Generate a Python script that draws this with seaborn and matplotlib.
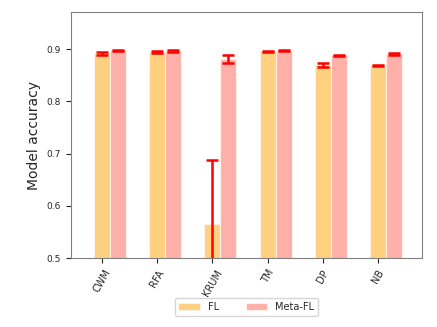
import pandas as pd
import matplotlib
matplotlib.use("Agg")
import matplotlib.pyplot as plt
import seaborn as sns

# data
methods = ["CWM", "RFA", "KRUM", "TM", "DP", "NB"]
fl_acc = [0.892, 0.895, 0.565, 0.896, 0.870, 0.868]
fl_err = [0.003, 0.002, 0.123, 0.001, 0.004, 0.001]
meta_acc = [0.898, 0.897, 0.881, 0.897, 0.888, 0.891]
meta_err = [0.001, 0.002, 0.008, 0.001, 0.001, 0.002]

df = pd.DataFrame({
    "method": methods * 2,
    "acc": fl_acc + meta_acc,
    "err": fl_err + meta_err,
    "setting": ["FL"] * len(methods) + ["Meta-FL"] * len(methods),
})

sns.set_style("ticks")
plt.rcParams["font.family"] = ["DejaVu Sans"]

fig = plt.figure(figsize=(4.37, 3.27), dpi=100)
ax = fig.add_axes([0.162, 0.211, 0.803, 0.752])

sns.barplot(data=df, x="method", y="acc", hue="setting", order=methods,
            palette={"FL": "#fed07f", "Meta-FL": "#ffb0a8"},
            width=0.58, errorbar=None, saturation=1, ax=ax,
            edgecolor="#fff0e8", linewidth=0.8)

# error bars at the bar centres
for cont, (name, grp) in zip(ax.containers, df.groupby("setting", sort=True)):
    xs = [p.get_x() + p.get_width() / 2 for p in cont.patches]
    ax.errorbar(xs, grp["acc"].values, yerr=grp["err"].values, fmt="none",
                ecolor="red", elinewidth=1.8, capsize=4, capthick=1.8, zorder=5)

fl_x = [p.get_x() + p.get_width() / 2 for p in ax.containers[0].patches]
ax.set_xticks(fl_x)
ax.set_xticklabels(methods, rotation=60, fontsize=7)
ax.set_xlim(fl_x[0] - 0.56, fl_x[-1] + 0.785)
ax.set_ylim(0.5, 0.971)
ax.set_yticks([0.5, 0.6, 0.7, 0.8, 0.9])
ax.tick_params(axis="y", labelsize=6.5)
ax.set_xlabel("")
ax.set_ylabel("Model accuracy", fontsize=10)
for s in ax.spines.values():
    s.set_visible(True)
    s.set_color("#808080")

ax.legend(title=None, ncol=2, fontsize=7, loc="center",
          bbox_to_anchor=(0.5, -0.2), frameon=True, handlelength=2.2,
          columnspacing=2.8)

fig.savefig("out.png", dpi=100)
